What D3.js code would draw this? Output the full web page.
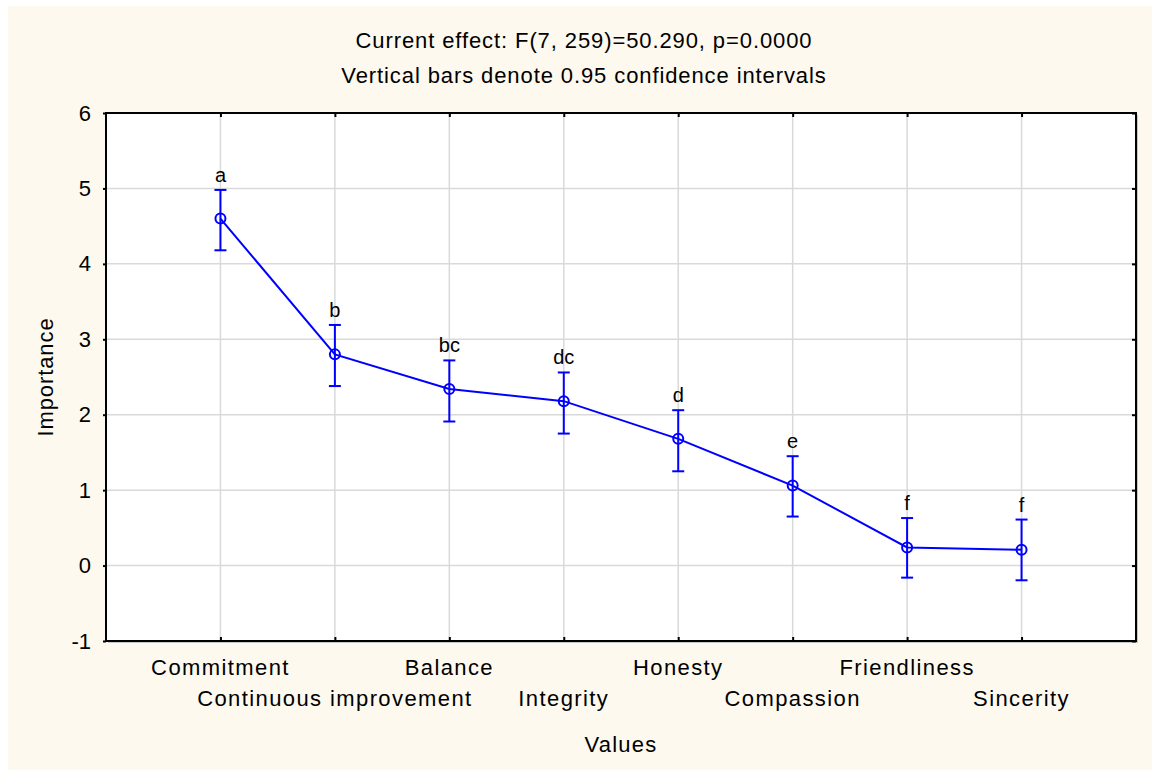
<!DOCTYPE html>
<html>
<head>
<meta charset="utf-8">
<script src="https://cdn.jsdelivr.net/npm/d3@7"></script>
<style>
  body { margin: 0; background: #ffffff; }
  text { font-family: "Liberation Sans", Arial, sans-serif; fill: #000; }
</style>
</head>
<body>
<svg id="chart" width="1152" height="770"></svg>
<script>
// means and 0.95 confidence limits
var categories = ['Commitment', 'Continuous improvement', 'Balance', 'Integrity',
                  'Honesty', 'Compassion', 'Friendliness', 'Sincerity'];
var means = [4.60, 2.80, 2.34, 2.18, 1.68, 1.06, 0.24, 0.21];
var upper = [4.98, 3.19, 2.72, 2.56, 2.06, 1.45, 0.63, 0.61];
var lower = [4.18, 2.38, 1.91, 1.75, 1.25, 0.65, -0.16, -0.195];
var groups = ['a', 'b', 'bc', 'dc', 'd', 'e', 'f', 'f'];
var yTicks = [-1, 0, 1, 2, 3, 4, 5, 6];
var titleLines = ['Current effect: F(7, 259)=50.290, p=0.0000',
                  'Vertical bars denote 0.95 confidence intervals'];

var svg = d3.select('#chart');
var plot = {left: 106, top: 113, right: 1136, bottom: 641};
var fontFamily = '"Liberation Sans", Arial, sans-serif';

// cream page background
svg.append('rect').attr('x', 8).attr('y', 6).attr('width', 1144).attr('height', 764)
    .attr('fill', '#fdf9ef');

var x = d3.scalePoint().domain(categories).range([plot.left, plot.right]).padding(1);
var y = d3.scaleLinear().domain([-1, 6]).range([plot.bottom, plot.top]);

// plot area with a faint shadow
svg.append('rect').attr('x', plot.left + 2).attr('y', plot.top + 2)
    .attr('width', plot.right - plot.left).attr('height', plot.bottom - plot.top)
    .attr('fill', '#c8c8c8');
svg.append('rect').attr('x', plot.left).attr('y', plot.top)
    .attr('width', plot.right - plot.left).attr('height', plot.bottom - plot.top)
    .attr('fill', '#ffffff');

// grid
var grid = svg.append('g').attr('stroke', '#d9d9d9').attr('stroke-width', 1.5);
grid.selectAll('.hg').data(yTicks.slice(1, -1)).enter().append('line')
    .attr('x1', plot.left).attr('x2', plot.right)
    .attr('y1', function(d) { return y(d); }).attr('y2', function(d) { return y(d); });
grid.selectAll('.vg').data(categories).enter().append('line')
    .attr('y1', plot.top).attr('y2', plot.bottom)
    .attr('x1', function(d) { return x(d); }).attr('x2', function(d) { return x(d); });

// axes
var leftAxis = svg.append('g').attr('transform', 'translate(' + plot.left + ',0)')
    .call(d3.axisLeft(y).tickValues(yTicks).tickSize(3).tickPadding(12)
        .tickFormat(function(d) { return String(d); }));
var rightAxis = svg.append('g').attr('transform', 'translate(' + plot.right + ',0)')
    .call(d3.axisLeft(y).tickValues(yTicks).tickSize(4).tickFormat(''));
var bottomAxis = svg.append('g').attr('transform', 'translate(0,' + plot.bottom + ')')
    .call(d3.axisTop(x).tickSize(4).tickFormat(''));
var topAxis = svg.append('g').attr('transform', 'translate(0,' + plot.top + ')')
    .call(d3.axisBottom(x).tickSize(4).tickFormat(''));

[leftAxis, rightAxis, bottomAxis, topAxis].forEach(function(a) {
    a.select('.domain').remove();
    a.selectAll('.tick line').attr('stroke', '#000').attr('stroke-width', 2);
});
leftAxis.selectAll('.tick text').attr('font-size', 22)
    .style('font-family', fontFamily).attr('fill', '#000');

svg.append('rect').attr('x', plot.left).attr('y', plot.top)
    .attr('width', plot.right - plot.left).attr('height', plot.bottom - plot.top)
    .attr('fill', 'none').attr('stroke', '#000').attr('stroke-width', 2);

// category labels on two staggered rows
svg.append('g').selectAll('text').data(categories).enter().append('text')
    .attr('x', function(d) { return x(d); })
    .attr('y', function(d, i) { return i % 2 === 0 ? 675 : 706; })
    .attr('text-anchor', 'middle').attr('font-size', 22).attr('letter-spacing', 1.4)
    .text(function(d) { return d; });

// error bars, line and markers
var blue = '#0000ff';
var bars = svg.append('g').attr('stroke', blue).attr('stroke-width', 2).attr('fill', 'none');
categories.forEach(function(c, i) {
    var cx = x(c);
    bars.append('line').attr('x1', cx).attr('x2', cx).attr('y1', y(upper[i])).attr('y2', y(lower[i]));
    bars.append('line').attr('x1', cx - 6).attr('x2', cx + 6).attr('y1', y(upper[i])).attr('y2', y(upper[i]));
    bars.append('line').attr('x1', cx - 6).attr('x2', cx + 6).attr('y1', y(lower[i])).attr('y2', y(lower[i]));
});

var line = d3.line()
    .x(function(d, i) { return x(categories[i]); })
    .y(function(d) { return y(d); });
svg.append('path').datum(means).attr('d', line)
    .attr('fill', 'none').attr('stroke', blue).attr('stroke-width', 2);

svg.append('g').selectAll('circle').data(means).enter().append('circle')
    .attr('cx', function(d, i) { return x(categories[i]); })
    .attr('cy', function(d) { return y(d); })
    .attr('r', 5).attr('fill', 'none').attr('stroke', blue).attr('stroke-width', 2);

// homogeneous group letters
svg.append('g').selectAll('text').data(groups).enter().append('text')
    .attr('x', function(d, i) { return x(categories[i]); })
    .attr('y', function(d, i) { return y(upper[i]) - 8; })
    .attr('text-anchor', 'middle').attr('font-size', 20)
    .text(function(d) { return d; });

// titles
svg.append('g').selectAll('text').data(titleLines).enter().append('text')
    .attr('x', 584).attr('y', function(d, i) { return 48 + i * 35; })
    .attr('text-anchor', 'middle').attr('font-size', 22).attr('letter-spacing', 0.9)
    .text(function(d) { return d; });

svg.append('text').attr('x', (plot.left + plot.right) / 2).attr('y', 752)
    .attr('text-anchor', 'middle').attr('font-size', 22).attr('letter-spacing', 1.2).text('Values');

svg.append('text')
    .attr('transform', 'translate(53,' + (plot.top + plot.bottom) / 2 + ') rotate(-90)')
    .attr('text-anchor', 'middle').attr('font-size', 22).attr('letter-spacing', 0.9).text('Importance');
</script>
</body>
</html>
